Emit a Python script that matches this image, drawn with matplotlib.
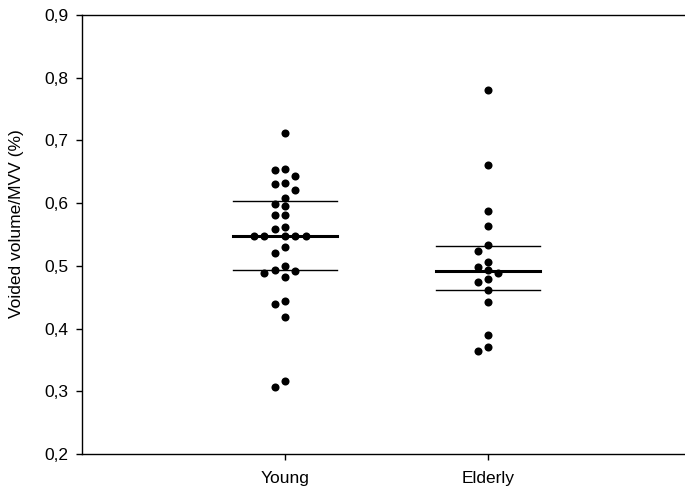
import numpy as np
import matplotlib
matplotlib.use("Agg")
import matplotlib.pyplot as plt
from matplotlib.ticker import FuncFormatter

plt.rcParams['font.family'] = ['Liberation Sans', 'DejaVu Sans']

categories = ["Young", "Elderly"]
young = [0.712, 0.654, 0.653, 0.643, 0.632, 0.630, 0.621, 0.608, 0.599, 0.595,
         0.581, 0.581, 0.562, 0.559, 0.548, 0.548, 0.548, 0.548, 0.548, 0.530,
         0.521, 0.499, 0.494, 0.492, 0.488, 0.482, 0.444, 0.439, 0.419, 0.316, 0.307]
elderly = [0.781, 0.660, 0.588, 0.563, 0.534, 0.523, 0.506, 0.498, 0.493, 0.488,
           0.479, 0.474, 0.461, 0.442, 0.389, 0.371, 0.364]
medians = [0.548, 0.491]
q1 = [0.493, 0.461]
q3 = [0.604, 0.531]
yticks = [0.2, 0.3, 0.4, 0.5, 0.6, 0.7, 0.8, 0.9]

fig = plt.figure(figsize=(6.85, 4.91), dpi=100)
ax = fig.add_axes([0.1197, 0.0754, 0.8803, 0.8941])
ax.set_xlim(0, 2.97)
ax.set_ylim(0.2, 0.9)

step = 0.051      # horizontal slot width (data units)
coll = 0.0125     # vertical collision distance (data units)


def swarm(vals):
    order = np.argsort(vals)[::-1]
    slots = {}
    out = np.zeros(len(vals))
    cand = [0, -1, 1, -2, 2, -3, 3]
    for i in order:
        v = vals[i]
        for c in cand:
            if all(abs(v - w) >= coll for w in slots.get(c, [])):
                slots.setdefault(c, []).append(v)
                out[i] = c * step
                break
    return out


for k, data in enumerate([young, elderly]):
    pos = k + 1
    vals = np.array(data)
    xs = pos + swarm(vals)
    ax.plot(xs, vals, 'o', color='black', markersize=5.8, markeredgewidth=0, zorder=3)
    hw = 0.256
    ax.plot([pos - hw, pos + hw], [medians[k]] * 2, color='black', lw=2.2, zorder=2)
    ax.plot([pos - hw, pos + hw], [q1[k]] * 2, color='black', lw=1.0, zorder=2)
    ax.plot([pos - hw, pos + hw], [q3[k]] * 2, color='black', lw=1.0, zorder=2)

ax.set_xticks([1, 2])
ax.set_xticklabels(categories)
ax.set_yticks(yticks)
ax.yaxis.set_major_formatter(FuncFormatter(lambda v, p: f"{v:.1f}".replace('.', ',')))
ax.tick_params(axis='both', direction='out', length=4, width=1.0, labelsize=12.5, colors='black')
ax.tick_params(axis='y', pad=6)
ax.tick_params(axis='x', pad=8)
ax.spines['right'].set_visible(False)
for s in ['left', 'top', 'bottom']:
    ax.spines[s].set_linewidth(1.0)
    ax.spines[s].set_color('black')
ax.set_ylabel("Voided volume/MVV (%)", fontsize=12.5)
ax.yaxis.set_label_coords(-0.096, 0.524)

fig.savefig("out.png", dpi=100)
